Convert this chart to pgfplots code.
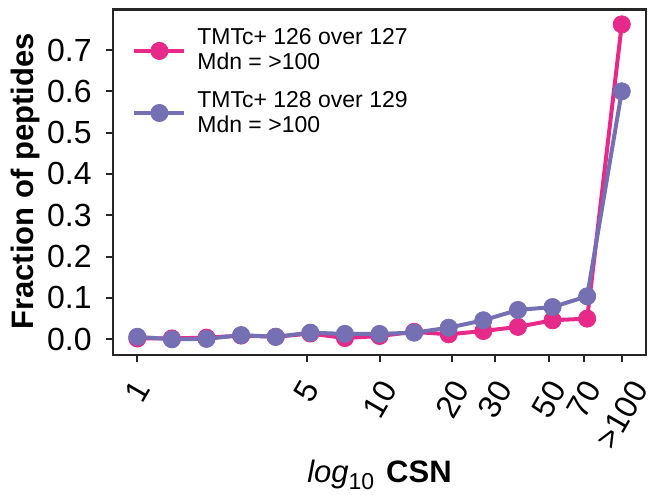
\documentclass[border=0pt]{standalone}
\usepackage{fontspec}
\setmainfont{Liberation Sans}
\usepackage{graphicx}
\usepackage{pgfplots}
\pgfplotsset{compat=1.18}
\usetikzlibrary{calc}
\definecolor{tmtpink}{HTML}{E7298A}
\definecolor{tmtpurple}{HTML}{7570B3}
\definecolor{spine}{HTML}{262626}
\newcommand{\rl}[1]{\rotatebox{60}{#1}}

\begin{document}
\begin{tikzpicture}
\begin{axis}[
  scale only axis,
  width=266.5pt, height=172.75pt,
  xmode=log,
  xmin=0.794, xmax=125.9,
  ymin=-0.038, ymax=0.798,
  axis line style={spine, line width=1.2pt},
  every tick/.style={spine, line width=1pt},
  tick align=outside, tick pos=left,
  major tick length=3.5pt,
  xtick={1,5,10,20,30,50,70,100},
  xticklabels={\rl{1},\rl{5},\rl{10},\rl{20},\rl{30},\rl{50},\rl{70},\rl{>100}},
  minor xtick={},
  ytick={0,0.1,0.2,0.3,0.4,0.5,0.6,0.7},
  /pgf/number format/assume math mode=true,
  yticklabel style={/pgf/number format/fixed, /pgf/number format/fixed zerofill,
    /pgf/number format/precision=1},
  tick label style={font=\fontsize{16}{18}\selectfont},
  xticklabel style={anchor=north, inner sep=0pt, yshift=-8pt},
  yticklabel style={anchor=east, inner sep=0pt, xshift=-7pt},
  xlabel={{\itshape log}\raisebox{-3.5pt}{\fontsize{11.5}{12}\selectfont 10}\hspace{6pt}\textbf{CSN}},
  ylabel={\textbf{Fraction of peptides}},
  xlabel style={at={(axis description cs:0.5,-0.3705)}, anchor=base, font=\fontsize{15.5}{17}\selectfont},
  ylabel style={at={(axis description cs:-0.165,0.502)}, anchor=center, font=\fontsize{15.5}{17}\selectfont},
  legend style={at={(axis description cs:0,1)}, anchor=north west, xshift=9.5pt, yshift=-9.5pt,
    draw=none, fill=none, inner sep=0pt, column sep=5.5pt, row sep=9pt,
    font=\fontsize{11.5}{12.5}\selectfont, nodes={inner sep=0pt, align=left, anchor=center}},
  legend cell align=left,
  legend image code/.code={\draw[mark repeat=2, mark phase=2, #1] plot coordinates {(0pt,0pt) (12.5pt,0pt) (25pt,0pt)};},
]
\addplot[tmtpink, line width=2pt, mark=*, mark size=4.3pt, mark options={solid, fill=tmtpink, line width=0.4pt}] coordinates {
  (1,0.002) (1.3895,0.002) (1.9307,0.004) (2.6827,0.009) (3.7276,0.006)
  (5.1795,0.014) (7.1969,0.003) (10,0.008) (13.895,0.018) (19.307,0.012)
  (26.827,0.020) (37.276,0.030) (51.795,0.046) (71.969,0.050) (100,0.762)
};
\addlegendentry{TMTc+ 126 over 127\\Mdn = >100}
\addplot[tmtpurple, line width=2pt, mark=*, mark size=4.3pt, mark options={solid, fill=tmtpurple, line width=0.4pt}] coordinates {
  (1,0.006) (1.3895,0.000) (1.9307,0.001) (2.6827,0.010) (3.7276,0.006)
  (5.1795,0.016) (7.1969,0.013) (10,0.013) (13.895,0.016) (19.307,0.028)
  (26.827,0.046) (37.276,0.071) (51.795,0.078) (71.969,0.104) (100,0.600)
};
\addlegendentry{TMTc+ 128 over 129\\Mdn = >100}
\end{axis}
\pgfresetboundingbox
\path ($(current axis.south west)+(-56.5pt,-70pt)$) rectangle ($(current axis.north east)+(1.5pt,4.75pt)$);
\end{tikzpicture}
\end{document}
